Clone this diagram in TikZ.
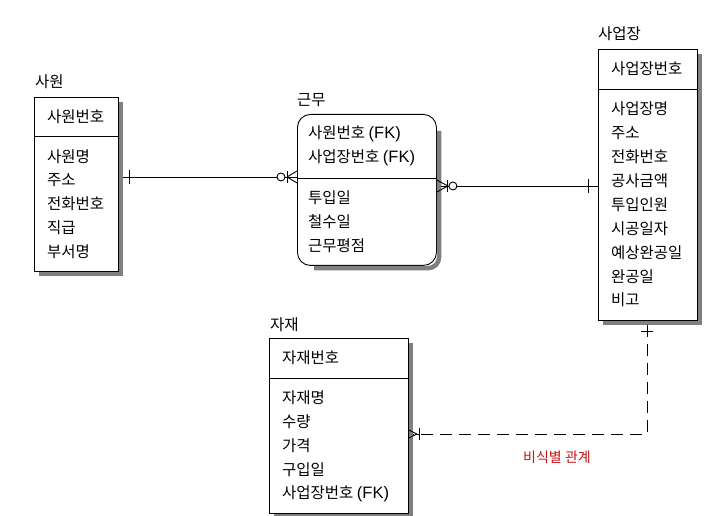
\documentclass[tikz,border=0pt]{standalone}
\usepackage{fontspec}
\setmainfont{Noto Sans CJK KR}
\newfontfamily\latinfk{Liberation Sans}
\usetikzlibrary{calc}
\definecolor{relred}{RGB}{200,20,20}
\newcommand{\FK}{{\latinfk\fontsize{16.5}{18}\selectfont(FK)}}
\tikzset{
  entbox/.style={draw=black, line width=0.9pt, fill=white, anchor=north west, inner sep=0pt},
  entshadow/.style={fill=black!50, draw=none},
  shadowline/.style={draw=black!50, line width=4.5pt, line cap=butt},
  attr/.style={anchor=west, inner sep=0pt, font=\fontsize{15.5}{18}\selectfont},
  etitle/.style={anchor=west, inner sep=0pt, font=\fontsize{15.5}{18}\selectfont},
  rel/.style={line width=0.9pt},
  relsym/.style={line width=0.9pt},
  nonid/.style={line width=1pt, dash pattern=on 12pt off 7pt}
}
\begin{document}
\begin{tikzpicture}[x=1pt,y=-1pt]
\fill[white] (0,0) rectangle (724,516);
\useasboundingbox (0,0) rectangle (724,516);

% ---------- 사원 ----------
\node[etitle] (t1) at (35,82) {사원};
\node[entbox, minimum width=84pt, minimum height=174pt] (sawon) at (34,97) {};
\fill[entshadow] ($(sawon.north east)+(0,5)$) rectangle ($(sawon.south east)+(4.5,4.5)$);
\fill[entshadow] ($(sawon.south west)+(5,0)$) rectangle ($(sawon.south east)+(4.5,4.5)$);
\draw[rel] (34,136) -- (118,136);
\node[attr] (s0) at (47,117) {사원번호};
\foreach \t/\y [count=\i] in {사원명/157,주소/180,전화번호/204,직급/228,부서명/252}
  \node[attr] (s\i) at (47,\y) {\t};

% ---------- 근무 ----------
\node[etitle] (t2) at (297,100) {근무};
\node[entbox, rounded corners=13pt, minimum width=139pt, minimum height=151pt] (geunmu) at (297,114) {};
\draw[shadowline, rounded corners=11pt] ($(geunmu.north east)+(2.25,17)$) -- ($(geunmu.south east)+(2.25,2.25)$) -- ($(geunmu.south west)+(17,2.25)$);
\draw[rel] (297,178) -- (436,178);
\node[attr] (g1) at (308,134) {사원번호 \FK};
\node[attr] (g2) at (308,158) {사업장번호 \FK};
\foreach \t/\y [count=\i] in {투입일/198,철수일/222,근무평점/246}
  \node[attr] (gg\i) at (308,\y) {\t};

% ---------- 사업장 ----------
\node[etitle] (t3) at (598,34) {사업장};
\node[entbox, minimum width=99pt, minimum height=271pt] (saeop) at (598,49) {};
\fill[entshadow] ($(saeop.north east)+(0,5)$) rectangle ($(saeop.south east)+(4.5,4.5)$);
\fill[entshadow] ($(saeop.south west)+(5,0)$) rectangle ($(saeop.south east)+(4.5,4.5)$);
\draw[rel] (598,89) -- (697,89);
\node[attr] (p0) at (611,69) {사업장번호};
\foreach \t/\y [count=\i] in {사업장명/109,주소/133,전화번호/157,공사금액/181,투입인원/205,시공일자/229,예상완공일/253,완공일/277,비고/300}
  \node[attr] (p\i) at (611,\y) {\t};

% ---------- 자재 ----------
\node[etitle] (t4) at (270,325) {자재};
\node[entbox, minimum width=139pt, minimum height=175pt] (jajae) at (269,338) {};
\fill[entshadow] ($(jajae.north east)+(0,5)$) rectangle ($(jajae.south east)+(4.5,4.5)$);
\fill[entshadow] ($(jajae.south west)+(5,0)$) rectangle ($(jajae.south east)+(4.5,4.5)$);
\draw[rel] (269,378) -- (408,378);
\node[attr] (j0) at (282,358) {자재번호};
\foreach \t/\y [count=\i] in {자재명/398,수량/422,가격/446,구입일/470}
  \node[attr] (j\i) at (282,\y) {\t};
\node[attr] (j5) at (282,494) {사업장번호 \FK};

% ---------- 사원 -- 근무 ----------
\coordinate (a1) at (sawon.east |- 0,177);
\coordinate (a2) at (geunmu.west |- 0,177);
\draw[rel] ([xshift=4pt]a1) -- (a2);
\draw[relsym] ([xshift=11pt]a1) ++(0,-7) -- ++(0,14);
\draw[relsym] ([xshift=-10pt]a2) ++(0,-6) -- ++(0,12);
\draw[relsym] ([xshift=-10pt]a2) -- ([yshift=-6pt]a2);
\draw[relsym] ([xshift=-10pt]a2) -- ([yshift=6pt]a2);
\draw[relsym, fill=white] ([xshift=-16pt]a2) circle (4pt);

% ---------- 근무 -- 사업장 ----------
\coordinate (b1) at (geunmu.east |- 0,186);
\coordinate (b2) at (saeop.west |- 0,186);
\draw[rel] ([xshift=4pt]b1) -- (b2);
\draw[relsym] ([xshift=11pt]b1) -- ([yshift=-6pt]b1);
\draw[relsym] ([xshift=11pt]b1) -- ([yshift=6pt]b1);
\draw[relsym] ([xshift=11pt]b1) ++(0,-6) -- ++(0,12);
\draw[relsym, fill=white] ([xshift=16pt]b1) circle (4pt);
\draw[relsym] ([xshift=-10pt]b2) ++(0,-7) -- ++(0,14);

% ---------- 사업장 -- 자재 (비식별) ----------
\coordinate (c1) at (saeop.south -| 647,0);
\coordinate (c2) at (jajae.east |- 0,434);
\draw[nonid] ([yshift=-4pt]c1) -- (647,434) -- ([xshift=4pt]c2);
\draw[relsym] ([yshift=-11pt]c1) ++(-6,0) -- ++(12,0);
\draw[relsym] ([xshift=11pt]c2) ++(0,-6) -- ++(0,12);
\draw[relsym] ([xshift=8pt]c2) -- ([yshift=-4pt]c2);
\draw[relsym] ([xshift=8pt]c2) -- ([yshift=4pt]c2);
\draw[relsym] ([xshift=8pt]c2) -- ([xshift=11pt]c2);
\node[anchor=center, inner sep=0pt, text=relred, font=\fontsize{14}{16}\selectfont] (lbl) at (557,457) {비식별 관계};
\end{tikzpicture}
\end{document}
